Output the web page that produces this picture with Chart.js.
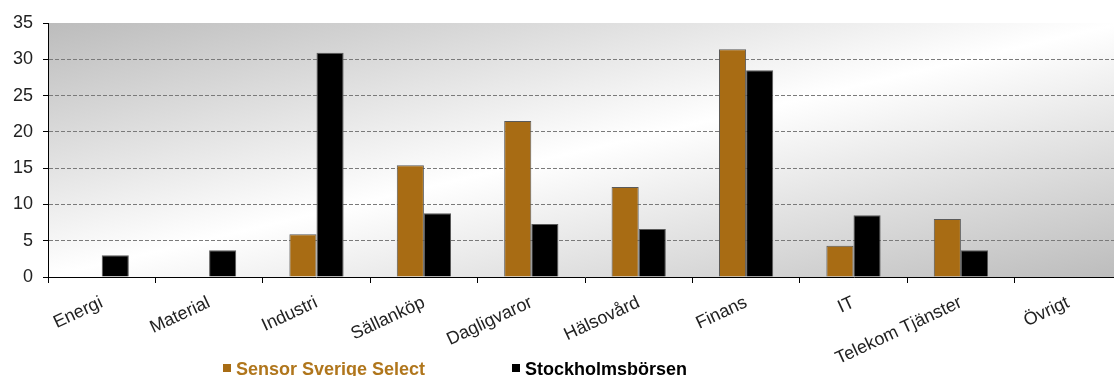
<!DOCTYPE html>
<html>
<head>
<meta charset="utf-8">
<script src="https://cdn.jsdelivr.net/npm/chart.js@4/dist/chart.umd.min.js"></script>
<style>
  html, body { margin: 0; padding: 0; background: #fff; overflow: hidden; }
  #clip { width: 1114px; height: 376px; overflow: hidden; position: relative; }
  /* the plot runs past the right edge in the reference, so the canvas is a bit wider than the view */
  #wrap { width: 1124px; height: 376px; position: relative; }
</style>
</head>
<body>
<div id="clip"><div id="wrap"><canvas id="chart"></canvas></div></div>
<script>
/* ── Data ──────────────────────────────────────────────────── */
const categories = ['Energi', 'Material', 'Industri', 'Sällanköp', 'Dagligvaror',
                    'Hälsovård', 'Finans', 'IT', 'Telekom Tjänster', 'Övrigt'];
const seriesNames = ['Sensor Sverige Select', 'Stockholmsbörsen'];
const sensorValues = [0, 0, 5.9, 15.4, 21.5, 12.4, 31.4, 4.3, 8.0, 0];
const borsenValues = [3.0, 3.7, 30.9, 8.8, 7.3, 6.6, 28.5, 8.5, 3.7, 0];
const yTicks = [0, 5, 10, 15, 20, 25, 30, 35];

/* ── Palette ───────────────────────────────────────────────── */
const COLORS = {
    sensor: '#A86C14',
    sensorText: '#B0761C',
    borsen: '#000000',
    barBorder: '#5a5a5a',
    grid: '#7a7a7a',
    axis: '#000000',
    tick: '#222222',
    bgEdge: '#bcbcbc',
    bgMid: '#ffffff',
};
const FONT = '"Liberation Sans", Arial, sans-serif';

/* ── Plugins ───────────────────────────────────────────────── */
// diagonal grey-white-grey wash behind the plot area
const plotBackground = {
    id: 'plotBackground',
    beforeDraw(chart) {
        const { ctx, chartArea: a } = chart;
        const cx = (a.left + a.right) / 2, cy = (a.top + a.bottom) / 2;
        const dx = a.right - a.left, dy = a.bottom - a.top;
        // direction perpendicular to the bottom-left → top-right diagonal
        const len = Math.hypot(dx, dy);
        const ux = dy / len, uy = dx / len;
        const ext = Math.abs((a.left - cx) * ux + (a.top - cy) * uy);
        const g = ctx.createLinearGradient(cx - ux * ext, cy - uy * ext, cx + ux * ext, cy + uy * ext);
        g.addColorStop(0, COLORS.bgEdge);
        g.addColorStop(0.5, COLORS.bgMid);
        g.addColorStop(1, COLORS.bgEdge);
        ctx.save();
        ctx.fillStyle = g;
        ctx.fillRect(a.left, a.top, dx, dy);
        ctx.restore();
    },
};

// legend drawn at the bottom with series-coloured text
const bottomLegend = {
    id: 'bottomLegend',
    afterDraw(chart) {
        const { ctx } = chart;
        const items = [
            { x: 223, box: COLORS.sensor, text: COLORS.sensorText },
            { x: 512, box: COLORS.borsen, text: COLORS.borsen },
        ];
        ctx.save();
        ctx.font = 'bold 18px ' + FONT;
        ctx.textBaseline = 'alphabetic';
        items.forEach((it, i) => {
            ctx.fillStyle = it.box;
            ctx.fillRect(it.x, 364, 8, 8);
            ctx.fillStyle = it.text;
            ctx.fillText(chart.data.datasets[i].label, it.x + 13, 375);
        });
        ctx.restore();
    },
};

/* ── Chart ─────────────────────────────────────────────────── */
new Chart(document.getElementById('chart'), {
    type: 'bar',
    data: {
        labels: categories,
        datasets: [
            {
                label: seriesNames[0],
                data: sensorValues,
                backgroundColor: COLORS.sensor,
                borderColor: COLORS.barBorder,
                borderWidth: 1,
                categoryPercentage: 0.505,
                barPercentage: 1.0,
            },
            {
                label: seriesNames[1],
                data: borsenValues,
                backgroundColor: COLORS.borsen,
                borderColor: COLORS.barBorder,
                borderWidth: 1,
                categoryPercentage: 0.505,
                barPercentage: 1.0,
            },
        ],
    },
    options: {
        responsive: true,
        maintainAspectRatio: false,
        animation: false,
        layout: { padding: { top: 23, right: 2, left: 0, bottom: 0 } },
        plugins: {
            legend: { display: false },
            tooltip: { enabled: false },
        },
        scales: {
            x: {
                afterFit(scale) { scale.height = 99; },
                grid: {
                    offset: true,
                    drawOnChartArea: false,
                    drawTicks: true,
                    tickLength: 6,
                    color: COLORS.axis,
                },
                border: { display: true, color: COLORS.axis, width: 1 },
                ticks: {
                    color: COLORS.tick,
                    font: { size: 18, family: FONT },
                    minRotation: 25,
                    maxRotation: 25,
                    autoSkip: false,
                    padding: 9,
                },
            },
            y: {
                min: 0,
                max: 35,
                afterFit(scale) { scale.width = 48; },
                afterBuildTicks(scale) { scale.ticks = yTicks.map(v => ({ value: v })); },
                grid: {
                    color: ctx => (ctx.tick && (ctx.tick.value === 0 || ctx.tick.value === 35)) ? 'rgba(0,0,0,0)' : COLORS.grid,
                    tickColor: COLORS.axis,
                    tickLength: 5,
                    tickBorderDash: [],
                    drawTicks: true,
                },
                border: { display: true, color: COLORS.axis, width: 1, dash: [4, 2] },
                ticks: {
                    color: COLORS.tick,
                    font: { size: 18, family: FONT },
                    padding: 10,
                },
            },
        },
    },
    plugins: [plotBackground, bottomLegend],
});
</script>
</body>
</html>
